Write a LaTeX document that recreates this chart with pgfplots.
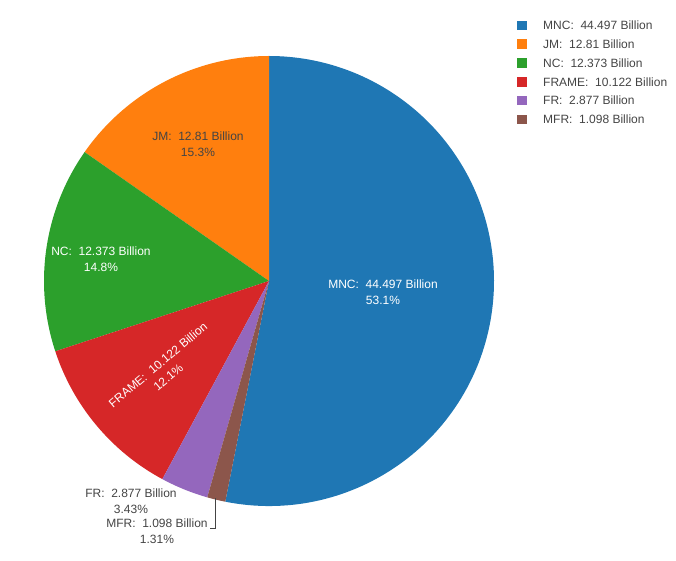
\documentclass[border=0pt]{standalone}
\usepackage{pgfplots}
\usepackage{pgfplotstable}
\pgfplotsset{compat=1.18}
\usepackage{fontspec}
\setmainfont{Liberation Sans}
\definecolor{pie0}{HTML}{1F77B4}
\definecolor{pie1}{HTML}{FF7F0E}
\definecolor{pie2}{HTML}{2CA02C}
\definecolor{pie3}{HTML}{D62728}
\definecolor{pie4}{HTML}{9467BD}
\definecolor{pie5}{HTML}{8C564B}
\definecolor{txt}{HTML}{444444}
\pgfplotstableread{
name value
MNC 44.497
JM 12.81
NC 12.373
FRAME 10.122
FR 2.877
MFR 1.098
}\piedata
\begin{document}
\begin{tikzpicture}
\fontsize{12}{15}\selectfont
% total
\gdef\total{0}
\foreach \i in {0,...,5}{%
  \pgfplotstablegetelem{\i}{value}\of\piedata
  \pgfmathparse{\total+\pgfplotsretval}\xdef\total{\pgfmathresult}}
\pgfplotstablegetelem{0}{value}\of\piedata
\pgfmathparse{90-360*\pgfplotsretval/\total}\xdef\cur{\pgfmathresult}
\foreach \i in {0,...,5}{%
  \pgfplotstablegetelem{\i}{value}\of\piedata
  \expandafter\xdef\csname sA\i\endcsname{\cur}%
  \pgfmathparse{\cur+360*\pgfplotsretval/\total}\xdef\cur{\pgfmathresult}%
  \expandafter\xdef\csname eA\i\endcsname{\cur}}
\begin{axis}[
  x=1pt, y=1pt, xmin=0, xmax=676, ymin=0, ymax=560,
  hide axis, clip=false, scale only axis, anchor=origin, at={(0,0)}]
\pgfplotsinvokeforeach{0,...,5}{%
  \fill[pie#1] (axis cs:269,279) -- ++(\csname sA#1\endcsname:225pt)
     arc[start angle=\csname sA#1\endcsname, end angle=\csname eA#1\endcsname, radius=225pt] -- cycle;
}
% inside labels
\node[white, align=center, font=\fontsize{12}{16}\selectfont] at (axis cs:383,268) {MNC:~ 44.497 Billion\\53.1\%};
\node[txt, align=center, font=\fontsize{12}{16}\selectfont] at (axis cs:198,416) {JM:~ 12.81 Billion\\15.3\%};
\node[white, align=center, font=\fontsize{12}{16}\selectfont] at (axis cs:101,301) {NC:~ 12.373 Billion\\14.8\%};
\node[white, align=center, rotate=40, font=\fontsize{12}{16}\selectfont] at (axis cs:163,189) {FRAME:~ 10.122 Billion\\12.1\%};
% outside labels
\node[txt, align=center, font=\fontsize{12}{16}\selectfont] at (axis cs:131,58.5) {FR:~ 2.877 Billion\\3.43\%};
\node[txt, align=center, font=\fontsize{12}{16}\selectfont] at (axis cs:157,28.5) {MFR:~ 1.098 Billion\\1.31\%};
\draw[txt, line width=0.9pt] (axis cs:215,62) -- (axis cs:215,32) -- (axis cs:210,32);
\end{axis}
% legend
\foreach \c/\lab [count=\k from 0] in {pie0/{MNC:~ 44.497 Billion},pie1/{JM:~ 12.81 Billion},pie2/{NC:~ 12.373 Billion},pie3/{FRAME:~ 10.122 Billion},pie4/{FR:~ 2.877 Billion},pie5/{MFR:~ 1.098 Billion}}{
  \pgfmathsetmacro\yy{560-25.5-18.8*\k}
  \fill[\c] (517pt,\yy pt-4.8pt) rectangle (527pt,\yy pt+4.8pt);
  \node[txt, anchor=west, inner sep=0pt] at (543pt,\yy pt) {\lab};
}
\useasboundingbox (0,0) rectangle (676pt,560pt);
\end{tikzpicture}
\end{document}
